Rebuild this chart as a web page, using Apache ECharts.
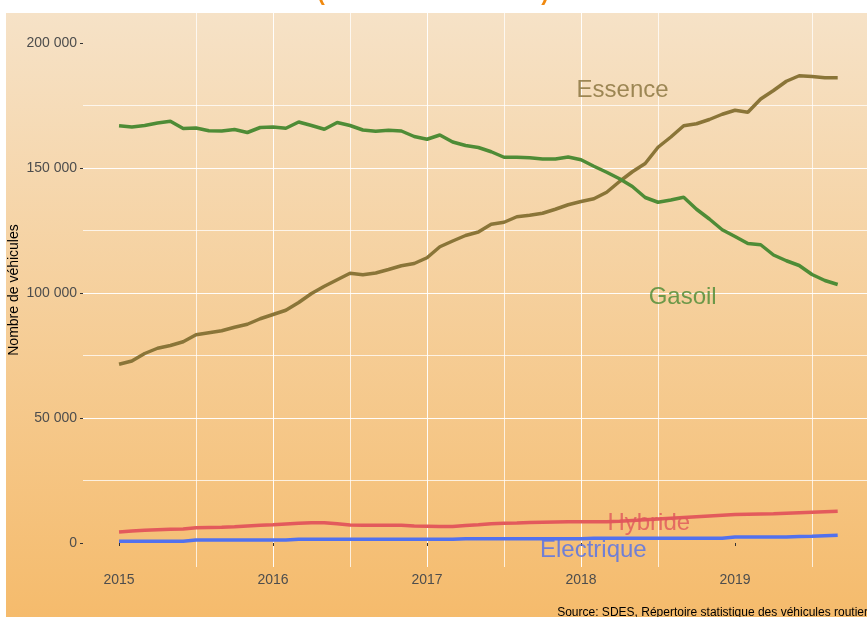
<!DOCTYPE html>
<html>
<head>
<meta charset="utf-8">
<title>Immatriculations par énergie</title>
<script src="https://cdn.jsdelivr.net/npm/echarts@6/dist/echarts.min.js"></script>
<style>
html, body { margin: 0; padding: 0; background: #ffffff; }
#main { width: 867px; height: 617px; }
</style>
</head>
<body>
<div id="main"></div>
<script type="text/javascript">
var myChart = echarts.init(document.getElementById('main'));

// mois de janvier 2015 a septembre 2019
var mois = [
  '2015-01','2015-02','2015-03','2015-04','2015-05','2015-06','2015-07','2015-08','2015-09','2015-10','2015-11','2015-12',
  '2016-01','2016-02','2016-03','2016-04','2016-05','2016-06','2016-07','2016-08','2016-09','2016-10','2016-11','2016-12',
  '2017-01','2017-02','2017-03','2017-04','2017-05','2017-06','2017-07','2017-08','2017-09','2017-10','2017-11','2017-12',
  '2018-01','2018-02','2018-03','2018-04','2018-05','2018-06','2018-07','2018-08','2018-09','2018-10','2018-11','2018-12',
  '2019-01','2019-02','2019-03','2019-04','2019-05','2019-06','2019-07','2019-08','2019-09'
];

var essence = [
  71500, 72800, 75800, 77900, 79000, 80500, 83300, 84100, 84900, 86300,
  87500, 89700, 91400, 93100, 96200, 99800, 102700, 105300, 107900, 107300,
  108000, 109400, 110900, 111800, 114100, 118500, 120800, 123000, 124400, 127500,
  128300, 130500, 131100, 131900, 133500, 135300, 136600, 137700, 140300, 144600,
  148500, 151800, 158300, 162400, 166900, 167700, 169400, 171500, 173100, 172300,
  177600, 181000, 184700, 186900, 186600, 186100, 186100
];
var gasoil = [
  166900, 166400, 167000, 168000, 168700, 165800, 166000, 164900, 164800, 165400,
  164200, 166200, 166400, 165900, 168400, 167000, 165500, 168200, 167000, 165200,
  164700, 165100, 164800, 162600, 161500, 163200, 160400, 159000, 158200, 156500,
  154300, 154300, 154100, 153600, 153600, 154400, 153300, 150700, 148300, 145700,
  142600, 138200, 136300, 137200, 138300, 133500, 129600, 125300, 122600, 119800,
  119300, 115200, 112900, 111000, 107400, 105000, 103400
];
var hybride = [
  4400, 4800, 5100, 5300, 5500, 5600, 6100, 6200, 6300, 6500,
  6800, 7100, 7300, 7600, 7900, 8100, 8100, 7700, 7200, 7100,
  7100, 7100, 7100, 6800, 6700, 6600, 6600, 7000, 7300, 7700,
  7900, 8000, 8200, 8300, 8400, 8500, 8500, 8500, 8500, 8700,
  9000, 9300, 9600, 9900, 10200, 10500, 10800, 11100, 11400, 11500,
  11600, 11700, 11900, 12100, 12300, 12500, 12700
];
var electrique = [
  700, 700, 700, 700, 700, 700, 1200, 1200, 1200, 1200,
  1200, 1200, 1200, 1200, 1500, 1500, 1500, 1500, 1500, 1500,
  1500, 1500, 1500, 1500, 1500, 1500, 1500, 1700, 1700, 1700,
  1700, 1700, 1700, 1700, 1700, 1700, 1700, 1900, 1900, 1900,
  1900, 1900, 1900, 1900, 1900, 1900, 1900, 1900, 2400, 2400,
  2400, 2400, 2400, 2600, 2700, 2900, 3100
];

// etiquettes posees dans le graphique
var etiquettes = ['Essence', 'Gasoil', 'Hybride', 'Electrique'];
var etiquettesX = [2018.27, 2018.66, 2018.44, 2018.08];
var etiquettesY = [181000, 98100, 7700, -2800];

var anneesTicks = [2015, 2016, 2017, 2018, 2019];
var valeursTicks = [0, 50000, 100000, 150000, 200000];

var couleurs = {
  Essence: '#8a7538',
  Gasoil: '#4e8c36',
  Hybride: '#e35a5c',
  Electrique: '#5271ee'
};
var couleursTexte = {
  Essence: '#86703a',
  Gasoil: '#4a8a33',
  Hybride: '#e0565b',
  Electrique: '#4f6fee'
};

function enAnnee(m) {
  var p = m.split('-');
  return +p[0] + (+p[1] - 1) / 12;
}

function serie(nom, valeurs) {
  return {
    name: nom,
    type: 'line',
    showSymbol: false,
    symbol: 'none',
    lineStyle: { color: couleurs[nom], width: 3.5 },
    itemStyle: { color: couleurs[nom] },
    data: mois.map(function (m, i) { return [enAnnee(m), valeurs[i]]; }),
    z: 3
  };
}

function espaces(v) {
  return String(v).replace(/\B(?=(\d{3})+(?!\d))/g, ' ');
}

var grille = { color: 'rgba(255,255,255,0.95)', width: 1 };
var grilleMineure = { color: 'rgba(255,255,255,0.75)', width: 1 };

var option = {
  backgroundColor: new echarts.graphic.LinearGradient(0, 0, 0, 1, [
    { offset: 0, color: '#f6e2c7' },
    { offset: 0.021, color: '#f6e2c7' },
    { offset: 1, color: '#f5bb6c' }
  ]),
  animation: false,
  textStyle: { fontFamily: 'Liberation Sans, Arial, sans-serif' },
  grid: { left: 83, right: 0, top: 13, bottom: 50, outerBoundsMode: 'none', containLabel: false },
  xAxis: {
    type: 'value',
    min: 2014.766,
    max: 2019.857,
    splitNumber: 5,
    axisLine: { show: false },
    axisTick: { show: true, length: 3, lineStyle: { color: '#333333' }, customValues: anneesTicks },
    axisLabel: {
      color: '#4d4d4d', fontSize: 14, margin: 6,
      customValues: anneesTicks,
      formatter: function (v) { return String(Math.round(v)); }
    },
    splitLine: { show: true, showMinLine: false, showMaxLine: false, lineStyle: grille },
    minorTick: { show: false, splitNumber: 2 },
    minorSplitLine: { show: true, lineStyle: grilleMineure }
  },
  yAxis: {
    type: 'value',
    min: -9600,
    max: 212000,
    splitNumber: 5,
    name: 'Nombre de véhicules',
    nameLocation: 'middle',
    nameGap: 62,
    nameMoveOverlap: false,
    nameTextStyle: { color: '#000000', fontSize: 14 },
    axisLine: { show: false },
    axisTick: { show: true, length: 3, lineStyle: { color: '#333333' }, customValues: valeursTicks },
    axisLabel: {
      color: '#4d4d4d', fontSize: 14, margin: 6,
      customValues: valeursTicks,
      formatter: espaces
    },
    splitLine: { show: true, showMinLine: false, showMaxLine: false, lineStyle: grille },
    minorTick: { show: false, splitNumber: 2 },
    minorSplitLine: { show: true, lineStyle: grilleMineure }
  },
  series: [
    serie('Essence', essence),
    serie('Gasoil', gasoil),
    serie('Hybride', hybride),
    serie('Electrique', electrique),
    {
      type: 'scatter',
      symbolSize: 0,
      silent: true,
      z: 4,
      data: etiquettes.map(function (nom, i) {
        return {
          name: nom,
          value: [etiquettesX[i], etiquettesY[i]],
          label: { color: couleursTexte[nom] }
        };
      }),
      label: {
        show: true,
        position: 'inside',
        fontSize: 24,
        formatter: '{b}'
      }
    }
  ],
  graphic: [
    { type: 'rect', shape: { x: 0, y: 0, width: 867, height: 13 }, style: { fill: '#ffffff' }, silent: true },
    { type: 'rect', shape: { x: 0, y: 0, width: 6, height: 617 }, style: { fill: '#ffffff' }, silent: true },
    {
      type: 'text', x: 433, y: 5, silent: true,
      style: {
        text: '(données mensuelles)',
        fill: '#f0890f',
        font: 'bold 22px "Liberation Sans", Arial, sans-serif',
        align: 'center',
        verticalAlign: 'bottom'
      }
    },
    {
      type: 'text', x: 874, y: 607, silent: true,
      style: {
        text: 'Source: SDES, Répertoire statistique des véhicules routiers',
        fill: '#000000',
        font: '12px "Liberation Sans", Arial, sans-serif',
        align: 'right',
        verticalAlign: 'top'
      }
    }
  ]
};

myChart.setOption(option);
</script>
</body>
</html>
